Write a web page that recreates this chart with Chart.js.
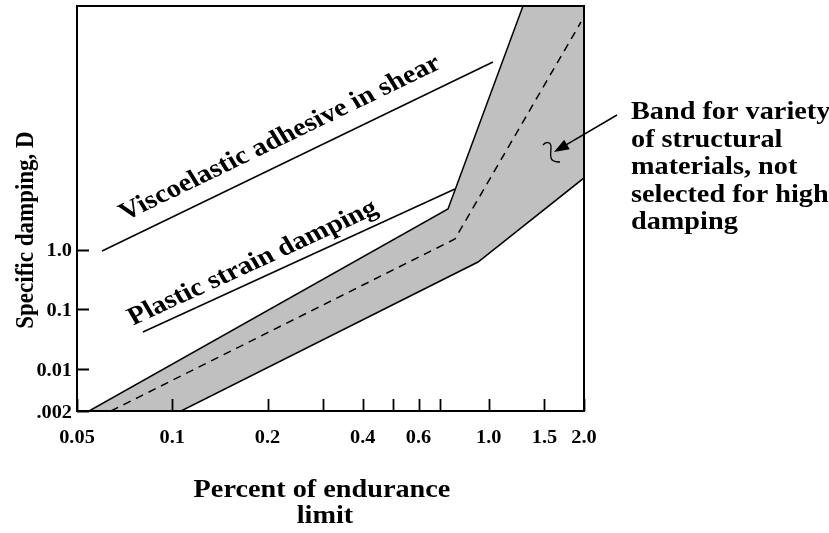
<!DOCTYPE html>
<html>
<head>
<meta charset="utf-8">
<script src="https://cdn.jsdelivr.net/npm/chart.js@4/dist/chart.umd.min.js"></script>
<style>
  html, body { margin: 0; padding: 0; background: #fff; }
  #chart { display: block; }
</style>
</head>
<body>
<canvas id="chart" width="829" height="533"></canvas>
<script>
// axis ranges and ticks
const xMin = 0.05, xMax = 2.0;
const yMin = 0.002, yMax = 12000;
const xTickValues = [0.05, 0.1, 0.2, 0.3, 0.4, 0.5, 0.6, 0.7, 1.0, 1.5, 2.0];
const xTickLabels = ['0.05', '0.1', '0.2', '', '0.4', '', '0.6', '', '1.0', '1.5', '2.0'];
const yTickValues = [0.002, 0.01, 0.1, 1.0];
const yTickLabels = ['.002', '0.01', '0.1', '1.0'];

// band for structural materials (upper / lower edge)
const bandUpperX = [0.0546, 0.7435, 1.283];
const bandUpperY = [0.002, 4.81, 12000];
const bandLowerX = [0.1066, 0.925, 2.0];
const bandLowerY = [0.002, 0.623, 15.9];

// dashed centre of the band
const midX = [0.064, 0.782, 1.957];
const midY = [0.002, 1.512, 6478];

// viscoelastic adhesive in shear
const viscoX = [0.060, 1.031];
const viscoY = [0.952, 1387];

// plastic strain damping
const plasticX = [0.0808, 0.782];
const plasticY = [0.042, 10.39];

// arrow into the band
const arrowTip = { x: 1.608, y: 43.2 };
const arrowTail = { x: 2.543, y: 180 };

const noteLines = ['Band for variety', 'of structural', 'materials, not', 'selected for high', 'damping'];
const xTitle = ['Percent of endurance', 'limit'];
const yTitle = 'Specific damping, D';

const FONT = '"Liberation Serif", "Times New Roman", serif';
const K = 1.13; // text in the figure is drawn a bit wide

const toPts = (xs, ys) => xs.map((x, i) => ({ x: x, y: ys[i] }));

const bandPts = toPts(bandUpperX, bandUpperY)
  .concat([{ x: xMax, y: yMax }])
  .concat(toPts(bandLowerX, bandLowerY).reverse());

function wideText(ctx, str, x, y, size, align, angle, baseline) {
  ctx.save();
  ctx.translate(x, y);
  ctx.scale(K, 1);
  ctx.rotate(angle || 0);
  ctx.font = 'bold ' + size + 'px ' + FONT;
  ctx.fillStyle = '#000';
  ctx.textAlign = align || 'left';
  ctx.textBaseline = baseline || 'alphabetic';
  ctx.fillText(str, 0, 0);
  ctx.restore();
}

// label along a line, shifted along it and lifted above it (pixels)
function lineLabel(ctx, xs, ys, str, size, along, up) {
  const sx = ctx.chart.scales.x, sy = ctx.chart.scales.y;
  const x0 = sx.getPixelForValue(xs[0]), y0 = sy.getPixelForValue(ys[0]);
  const x1 = sx.getPixelForValue(xs[1]), y1 = sy.getPixelForValue(ys[1]);
  const len = Math.hypot(x1 - x0, y1 - y0);
  const dx = (x1 - x0) / len, dy = (y1 - y0) / len;
  const px = x0 + dx * along + dy * up;
  const py = y0 + dy * along - dx * up;
  wideText(ctx, str, px, py, size, 'left', Math.atan2(y1 - y0, (x1 - x0) / K));
}

const decor = {
  id: 'decor',
  afterDatasetsDraw(chart) {
    const ctx = chart.ctx;
    const a = chart.chartArea;
    const sx = chart.scales.x, sy = chart.scales.y;
    ctx.save();
    ctx.strokeStyle = '#000';
    ctx.lineWidth = 1.8;
    // inward tick marks
    ctx.beginPath();
    xTickValues.forEach(v => {
      const px = Math.round(sx.getPixelForValue(v)) + 0.5;
      ctx.moveTo(px, a.bottom);
      ctx.lineTo(px, a.bottom - 12);
    });
    yTickValues.forEach(v => {
      const py = Math.round(sy.getPixelForValue(v)) + 0.5;
      ctx.moveTo(a.left, py);
      ctx.lineTo(a.left + 12, py);
    });
    ctx.stroke();
    // frame
    ctx.lineWidth = 2;
    ctx.strokeRect(a.left, a.top, a.right - a.left, a.bottom - a.top);
    ctx.restore();
  },
  afterDraw(chart) {
    const ctx = chart.ctx;
    ctx.chart = chart;
    const a = chart.chartArea;
    const sx = chart.scales.x, sy = chart.scales.y;

    // tick labels
    xTickValues.forEach((v, i) => {
      if (xTickLabels[i]) wideText(ctx, xTickLabels[i], sx.getPixelForValue(v), a.bottom + 32, 18, 'center');
    });
    yTickValues.forEach((v, i) => {
      wideText(ctx, yTickLabels[i], a.left - 5, sy.getPixelForValue(v) + 6.5, 18, 'right');
    });

    // axis titles
    wideText(ctx, xTitle[0], 322, 497, 25, 'center');
    wideText(ctx, xTitle[1], 325, 523, 25, 'center');
    wideText(ctx, yTitle, 33, 230, 23, 'center', -Math.PI / 2);

    // labels along the lines
    lineLabel(ctx, viscoX, viscoY, 'Viscoelastic adhesive in shear', 25.5, 34, 17);
    lineLabel(ctx, plasticX, plasticY, 'Plastic strain damping', 25.5, -6, 10);

    // note at right
    noteLines.forEach((s, i) => wideText(ctx, s, a.right + 47, 119 + i * 27.5, 25, 'left'));

    // arrow
    const tx = sx.getPixelForValue(arrowTip.x), ty = sy.getPixelForValue(arrowTip.y);
    const fx = sx.getPixelForValue(arrowTail.x), fy = sy.getPixelForValue(arrowTail.y);
    const ang = Math.atan2(ty - fy, tx - fx);
    ctx.save();
    ctx.strokeStyle = '#000';
    ctx.fillStyle = '#000';
    ctx.lineWidth = 1.5;
    ctx.beginPath();
    ctx.moveTo(fx, fy);
    ctx.lineTo(tx - Math.cos(ang) * 10, ty - Math.sin(ang) * 10);
    ctx.stroke();
    ctx.beginPath();
    ctx.moveTo(tx, ty);
    ctx.lineTo(tx - Math.cos(ang) * 15 - Math.sin(ang) * 5.5, ty - Math.sin(ang) * 15 + Math.cos(ang) * 5.5);
    ctx.lineTo(tx - Math.cos(ang) * 15 + Math.sin(ang) * 5.5, ty - Math.sin(ang) * 15 - Math.cos(ang) * 5.5);
    ctx.closePath();
    ctx.fill();
    // little squiggle at the arrow tip
    ctx.lineWidth = 1.3;
    ctx.beginPath();
    ctx.moveTo(tx - 11, ty - 7);
    ctx.bezierCurveTo(tx - 8, ty - 11, tx - 3, ty - 10, tx - 3, ty - 5);
    ctx.bezierCurveTo(tx - 3, ty - 1, tx - 4, ty + 3, tx - 3, ty + 6);
    ctx.bezierCurveTo(tx - 2, ty + 10, tx + 3, ty + 10, tx + 6, ty + 10);
    ctx.stroke();
    ctx.restore();
  }
};

new Chart(document.getElementById('chart'), {
  type: 'line',
  data: {
    datasets: [
      {
        data: toPts(midX, midY),
        borderColor: '#000', borderWidth: 1.5, borderDash: [8, 6],
        pointRadius: 0, fill: false
      },
      {
        data: toPts(viscoX, viscoY),
        borderColor: '#000', borderWidth: 1.5, pointRadius: 0, fill: false
      },
      {
        data: toPts(plasticX, plasticY),
        borderColor: '#000', borderWidth: 1.5, pointRadius: 0, fill: false
      },
      {
        data: bandPts,
        borderColor: '#000', borderWidth: 1.5, pointRadius: 0,
        backgroundColor: '#c0c0c0', fill: 'shape'
      }
    ]
  },
  options: {
    responsive: false,
    animation: false,
    events: [],
    layout: { padding: { left: 77, top: 6, right: 245, bottom: 122 } },
    scales: {
      x: { type: 'logarithmic', min: xMin, max: xMax, display: false },
      y: { type: 'logarithmic', min: yMin, max: yMax, display: false }
    },
    plugins: { legend: { display: false }, tooltip: { enabled: false } }
  },
  plugins: [decor]
});
</script>
</body>
</html>
